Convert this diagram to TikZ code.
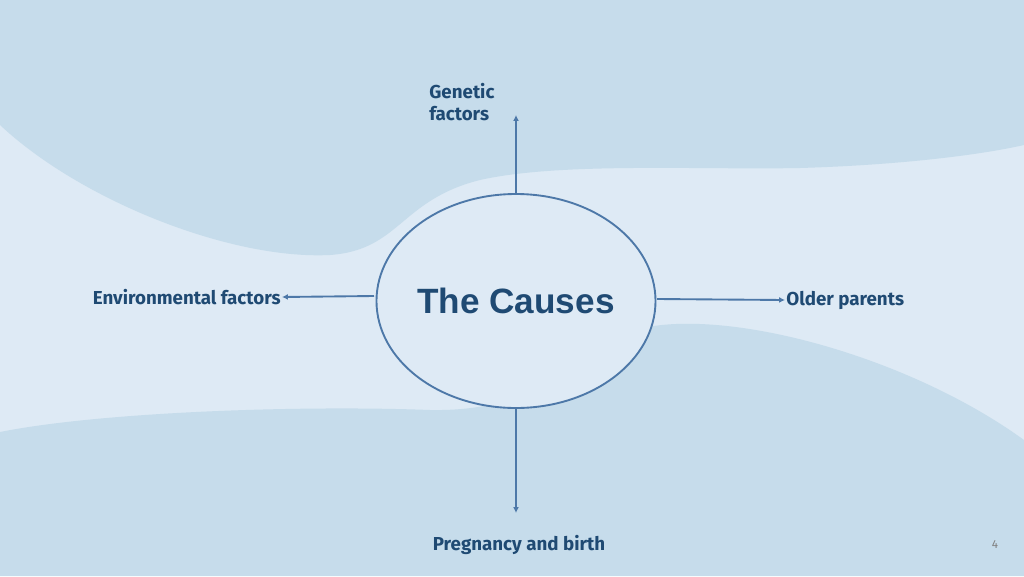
\documentclass[tikz,border=0pt]{standalone}
\usepackage{fontspec}
\setmainfont{Fira Sans}
\newfontfamily\arialb{Liberation Sans}
\usetikzlibrary{arrows.meta,shapes.geometric}
\definecolor{bgl}{HTML}{DEEAF5}
\definecolor{blob}{HTML}{C6DCEB}
\definecolor{txt}{HTML}{1F4A73}
\definecolor{ln}{HTML}{4D78A8}
\tikzset{lab/.style={font=\fontsize{16}{19}\selectfont\bfseries, text=txt, align=left, inner sep=1pt},
  arr/.style={draw=ln, line width=1.6pt, -{Latex[length=5pt,width=5pt]}}}
\begin{document}
\begin{tikzpicture}[x=0.03cm,y=-0.03cm]
\fill[bgl] (0,0) rectangle (1024,576);
\useasboundingbox (0,0) rectangle (1024,576);
\fill[blob] (0,0) -- (0,125) .. controls (80,200) and (230,260) .. (330,255)
  .. controls (400,250) and (400,200) .. (480,180) .. controls (560,162) and (700,170) .. (800,168)
  .. controls (900,165) and (980,155) .. (1024,145) -- (1024,0) -- cycle;
\fill[blob] (0,576) -- (0,432) .. controls (100,412) and (300,405) .. (430,410)
  .. controls (540,412) and (570,360) .. (620,335) .. controls (700,300) and (900,350) .. (1024,440)
  -- (1024,576) -- cycle;
\node[draw=ln, line width=1.6pt, fill=bgl, ellipse, minimum width=8.28cm, minimum height=6.42cm, inner sep=0pt,
  font=\arialb\fontsize{30}{36}\selectfont\bfseries, text=txt] (t) at (516,301) {The Causes};
\coordinate (lft) at (374,296);
\coordinate (rgt) at (657,299);
\node[lab, anchor=north west] (g) at (428,82) {Genetic\\factors};
\node[lab, anchor=east] (e) at (282,297) {Environmental factors};
\node[lab, anchor=west] (o) at (785,300) {Older parents};
\node[lab] (p) at (519,545) {Pregnancy and birth};
\node[font=\fontsize{10}{12}\selectfont, text=gray] (n) at (995,545) {4};
\draw[arr] (t.north) -- (516,115);
\draw[arr] (t.south) -- (516,513);
\draw[arr] (lft) -- (e.east);
\draw[arr] (rgt) -- (o.west);
\end{tikzpicture}
\end{document}
